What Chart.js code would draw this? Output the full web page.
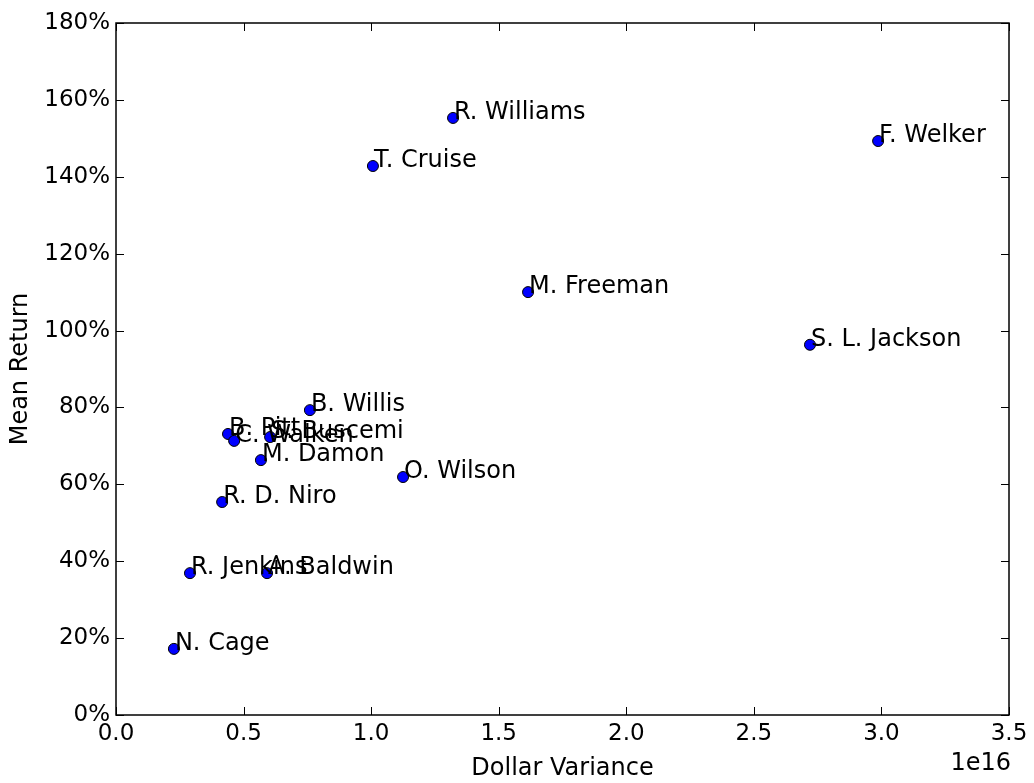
<!DOCTYPE html>
<html>
<head>
<meta charset="utf-8">
<title>Mean Return vs Dollar Variance</title>
<script src="https://cdn.jsdelivr.net/npm/chart.js@4/dist/chart.umd.min.js"></script>
<style>
	html, body { margin: 0; padding: 0; background: #ffffff; }
	#wrap { width: 1034px; height: 783px; }
</style>
</head>
<body>
<div id="wrap"><canvas id="chart-actors" width="1034" height="783"></canvas></div>
<script>
	// actors, variance of dollar returns (raw, ticks show it in 1e16) and mean return in %
	var actors = ["N. Cage", "R. Jenkins", "A. Baldwin", "R. D. Niro", "M. Damon", "O. Wilson", "B. Pitt",
		"C. Walken", "S. Buscemi", "B. Willis", "M. Freeman", "S. L. Jackson", "T. Cruise", "R. Williams", "F. Welker"];
	var dollarVariance = [0.227e16, 0.290e16, 0.592e16, 0.416e16, 0.568e16, 1.125e16, 0.439e16,
		0.463e16, 0.604e16, 0.760e16, 1.615e16, 2.720e16, 1.007e16, 1.321e16, 2.987e16];
	var meanReturn = [17.2, 36.9, 36.9, 55.4, 66.3, 61.9, 73.1,
		71.3, 72.3, 79.3, 110.0, 96.3, 142.8, 155.3, 149.3];
	var xTicks = [0, 0.5e16, 1.0e16, 1.5e16, 2.0e16, 2.5e16, 3.0e16, 3.5e16];
	var yTicks = [0, 20, 40, 60, 80, 100, 120, 140, 160, 180];

	var FONT = "'DejaVu Sans', sans-serif";

	function BuildPoints()
	{
		var points = [];
		for (var i = 0; i < actors.length; i++)
		{
			points.push({ x: dollarVariance[i], y: meanReturn[i] });
		}
		return points;
	}

	// frame, inward ticks on all four sides, names next to the points, 1e16 offset text
	var matplotlibLook = {
		id: "matplotlibLook",
		afterDatasetsDraw: function(chart)
		{
			var ctx = chart.ctx;
			var area = chart.chartArea;
			var xs = chart.scales.x;
			var ys = chart.scales.y;

			ctx.save();
			ctx.strokeStyle = "#000000";
			ctx.lineWidth = 1;
			xTicks.forEach(function(v)
			{
				var px = Math.round(xs.getPixelForValue(v)) + 0.5;
				ctx.beginPath();
				ctx.moveTo(px, area.bottom); ctx.lineTo(px, area.bottom - 8);
				ctx.moveTo(px, area.top); ctx.lineTo(px, area.top + 8);
				ctx.stroke();
			});
			yTicks.forEach(function(v)
			{
				var py = Math.round(ys.getPixelForValue(v)) + 0.5;
				ctx.beginPath();
				ctx.moveTo(area.left, py); ctx.lineTo(area.left + 8, py);
				ctx.moveTo(area.right, py); ctx.lineTo(area.right - 8, py);
				ctx.stroke();
			});

			ctx.lineWidth = 1.5;
			ctx.strokeRect(area.left, area.top, area.right - area.left, area.bottom - area.top);

			var meta = chart.getDatasetMeta(0);
			ctx.fillStyle = "#000000";
			ctx.font = "24px " + FONT;
			ctx.textAlign = "left";
			ctx.textBaseline = "alphabetic";
			meta.data.forEach(function(el, i)
			{
				ctx.fillText(actors[i], el.x + 1, el.y + 1);
			});

			ctx.textAlign = "right";
			ctx.fillText("1e16", area.right + 2, area.bottom + 55);
			ctx.restore();
		}
	};

	new Chart("chart-actors", {
		type: "scatter",
		data: {
			datasets: [{
				data: BuildPoints(),
				backgroundColor: "#0000ff",
				borderColor: "#000000",
				borderWidth: 1,
				pointRadius: 5.5,
				pointHoverRadius: 5.5
			}]
		},
		options: {
			responsive: false,
			animation: false,
			events: [],
			layout: { padding: { top: 23, right: 25, left: 6, bottom: 0 } },
			plugins: {
				legend: { display: false },
				tooltip: { enabled: false }
			},
			scales: {
				x: {
					type: "linear",
					min: 0,
					max: 3.5e16,
					afterBuildTicks: function(scale)
					{
						scale.ticks = xTicks.map(function(v) { return { value: v }; });
					},
					afterFit: function(scale) { scale.height = 68; },
					grid: { display: false, drawTicks: false },
					border: { display: false },
					ticks: {
						color: "#000000",
						font: { family: FONT, size: 23 },
						padding: 5,
						maxRotation: 0,
						autoSkip: false,
						callback: function(v) { return (v / 1e16).toFixed(1); }
					},
					title: {
						display: true,
						text: "Dollar Variance",
						color: "#000000",
						font: { family: FONT, size: 24 },
						padding: { top: 0, bottom: 0 }
					}
				},
				y: {
					type: "linear",
					min: 0,
					max: 180,
					afterBuildTicks: function(scale)
					{
						scale.ticks = yTicks.map(function(v) { return { value: v }; });
					},
					afterFit: function(scale) { scale.width = 110; },
					grid: { display: false, drawTicks: false },
					border: { display: false },
					ticks: {
						color: "#000000",
						font: { family: FONT, size: 23 },
						padding: 6,
						autoSkip: false,
						callback: function(v) { return v + "%"; }
					},
					title: {
						display: true,
						text: "Mean Return",
						color: "#000000",
						font: { family: FONT, size: 24 },
						padding: { top: 0, bottom: 4 }
					}
				}
			}
		},
		plugins: [matplotlibLook]
	});
</script>
</body>
</html>
